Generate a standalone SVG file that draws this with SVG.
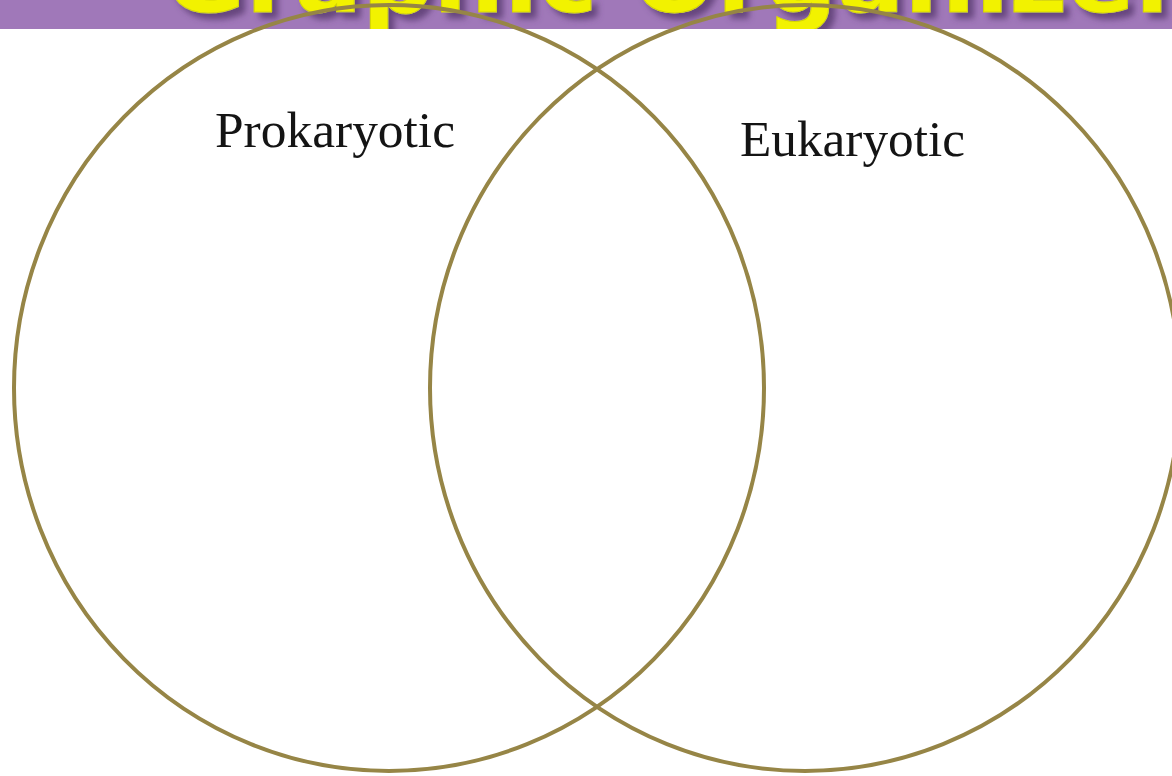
<svg xmlns="http://www.w3.org/2000/svg" width="1172" height="776" viewBox="0 0 1172 776">
  <style>
    .ring { fill: none; stroke: #968546; stroke-width: 4; }
    .label { font-family: "Liberation Serif", "DejaVu Serif", serif; font-size: 50px; fill: #141414; }
    .title { font-family: "DejaVu Sans", "Liberation Sans", sans-serif; font-weight: bold; font-size: 94px; }
  </style>
  <defs>
    <clipPath id="bandClip"><rect x="0" y="0" width="1172" height="29"/></clipPath>
    <filter id="shadow" x="-10%" y="-50%" width="120%" height="200%">
      <feDropShadow dx="6" dy="6" stdDeviation="3" flood-color="#5B3D72" flood-opacity="0.85"/>
    </filter>
  </defs>
  <rect x="0" y="0" width="1172" height="776" fill="#ffffff"/>
  <g id="title-band">
    <rect x="0" y="0" width="1172" height="29" fill="#A078B9"/>
    <g clip-path="url(#bandClip)">
      <text class="title" x="164" y="12" textLength="1020" lengthAdjust="spacingAndGlyphs" fill="#F2F200" stroke="#D6D600" stroke-width="1" filter="url(#shadow)">Graphic Organizer</text>
    </g>
  </g>
  <g id="prokaryotic">
    <ellipse class="ring" cx="389" cy="388" rx="375" ry="383"/>
    <text class="label" x="215" y="147" textLength="240" lengthAdjust="spacingAndGlyphs">Prokaryotic</text>
  </g>
  <g id="eukaryotic">
    <ellipse class="ring" cx="805" cy="388" rx="375" ry="383"/>
    <text class="label" x="740" y="156" textLength="225" lengthAdjust="spacingAndGlyphs">Eukaryotic</text>
  </g>
  <g id="connectors"/>
</svg>
